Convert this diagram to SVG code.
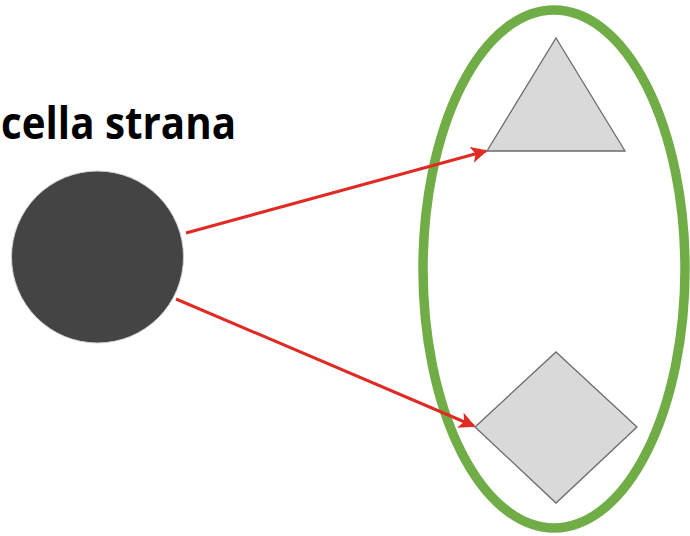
<svg xmlns="http://www.w3.org/2000/svg" width="690" height="536" viewBox="0 0 690 536">
  <defs>
    <style>
      .shape { fill: #d9d9d9; stroke: #6b6b6b; stroke-width: 1.3; }
      .conn { stroke: #e02a24; stroke-width: 3; fill: none; marker-end: url(#arrow); }
      .label { font-family: "Open Sans", "Liberation Sans", sans-serif; font-weight: bold; font-size: 44px; fill: #000; }
    </style>
    <marker id="arrow" viewBox="0 0 10 10" refX="9" refY="5" markerWidth="5.5" markerHeight="5.5" orient="auto" markerUnits="strokeWidth">
      <path d="M0,0 L10,5 L0,10 L2.5,5 Z" fill="#e02a24"/>
    </marker>
  </defs>
  <rect width="690" height="536" fill="#fff"/>
  <g id="label-cella-strana">
    <text class="label" x="1" y="139" textLength="235" lengthAdjust="spacingAndGlyphs">cella strana</text>
  </g>
  <g id="node-circle">
    <circle cx="97.5" cy="257" r="86" fill="#444444" stroke="#d0d0d0" stroke-width="1"/>
  </g>
  <g id="node-group-ellipse">
    <ellipse cx="554" cy="269" rx="131" ry="259" fill="none" stroke="#70ad47" stroke-width="9.5"/>
  </g>
  <g id="node-triangle">
    <polygon class="shape" points="556,38 625,151 487,151"/>
  </g>
  <g id="node-diamond">
    <polygon class="shape" points="556,352 637,427 556,503 475,427"/>
  </g>
  <g id="connectors">
    <line class="conn" x1="186" y1="233" x2="486" y2="151"/>
    <line class="conn" x1="176" y1="299" x2="474" y2="426"/>
  </g>
</svg>
